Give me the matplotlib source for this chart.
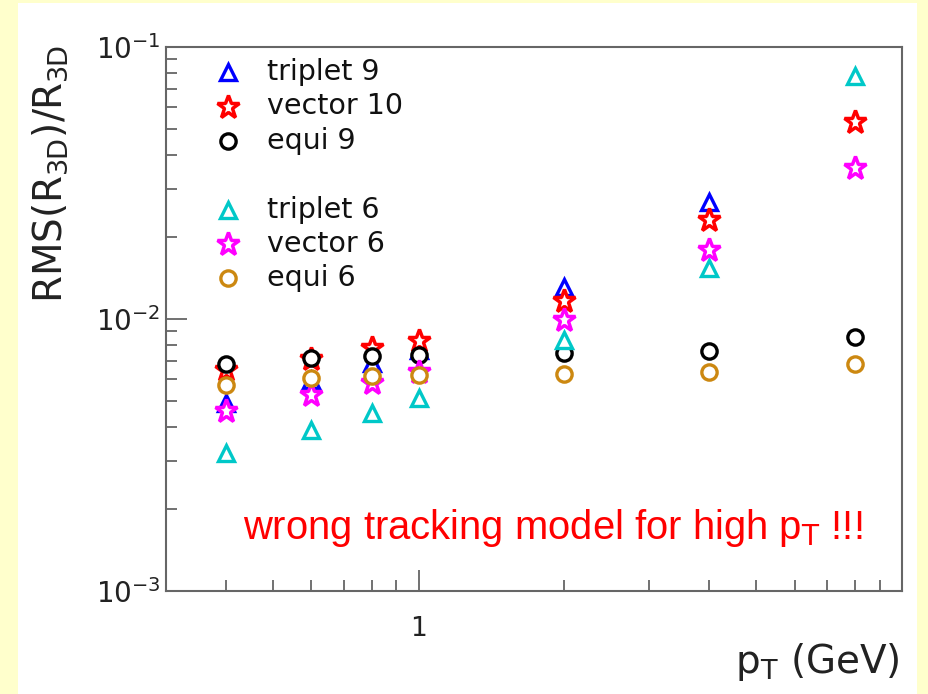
import matplotlib
matplotlib.use("Agg")
import matplotlib.pyplot as plt
from matplotlib.patches import Rectangle
from matplotlib.ticker import FixedLocator, FixedFormatter, LogLocator, NullFormatter

# ---------------- data ----------------
pt = [0.4, 0.6, 0.8, 1.0, 2.0, 4.0, 8.0]

triplet9 = [0.0049, 0.00594, 0.00691, 0.0077, 0.01306, 0.0268, None]
vector10 = [0.0065, 0.0071, 0.0078, 0.00826, 0.01159, 0.0230, 0.0530]
equi9 = [0.00684, 0.0072, 0.00731, 0.00738, 0.00752, 0.00765, 0.0086]
triplet6 = [0.00321, 0.00391, 0.00451, 0.00512, 0.00837, 0.01535, 0.0780]
vector6 = [0.00457, 0.00526, 0.0058, 0.0064, 0.00987, 0.0179, 0.0358]
equi6 = [0.00569, 0.00606, 0.00619, 0.00622, 0.00628, 0.0064, 0.00682]

series_names = ["triplet 9", "vector 10", "equi 9", "triplet 6", "vector 6", "equi 6"]

# ---------------- figure ----------------
W, H = 929, 694
fig = plt.figure(figsize=(W / 100, H / 100), dpi=100, facecolor="#FFFFCC")
fig.patches.append(Rectangle((18 / W, 0), (917 - 18) / W, (H - 3) / H,
                             transform=fig.transFigure, facecolor="white",
                             edgecolor="none", zorder=-5))

ax = fig.add_axes([166 / W, 1 - 591 / H, (901.7 - 166) / W, (591 - 46.7) / H])
ax.set_zorder(2)
ax.set_facecolor("white")
ax.set_xscale("log")
ax.set_yscale("log")
ax.set_xlim(0.3, 10)
ax.set_ylim(1e-3, 1e-1)

frame_col = "#666666"
for s in ax.spines.values():
    s.set_color(frame_col)
    s.set_linewidth(1.5)

styles = [
    dict(marker="^", color="#0000FF", ms=12, mew=2.4),
    dict(marker="*", color="#FF0000", ms=17, mew=2.5),
    dict(marker="o", color="#000000", ms=11, mew=2.4),
    dict(marker="^", color="#00C8C8", ms=12, mew=2.4),
    dict(marker="*", color="#FF00FF", ms=17, mew=2.5),
    dict(marker="o", color="#CC8811", ms=11, mew=2.4),
]
all_series = [triplet9, vector10, equi9, triplet6, vector6, equi6]

for vals, st in zip(all_series, styles):
    xs = [x for x, v in zip(pt, vals) if v is not None]
    ys = [v for v in vals if v is not None]
    ax.plot(xs, ys, linestyle="none", marker=st["marker"], ms=st["ms"],
            mfc="white", mec=st["color"], mew=st["mew"], zorder=3)

# ticks
ax.xaxis.set_major_locator(FixedLocator([1.0]))
ax.xaxis.set_major_formatter(FixedFormatter(["1"]))
ax.xaxis.set_minor_locator(LogLocator(base=10, subs=[2, 3, 4, 5, 6, 7, 8, 9]))
ax.xaxis.set_minor_formatter(NullFormatter())
ax.yaxis.set_major_locator(FixedLocator([1e-3, 1e-2, 1e-1]))
ax.yaxis.set_major_formatter(FixedFormatter([r"$10^{-3}$", r"$10^{-2}$", r"$10^{-1}$"]))
ax.yaxis.set_minor_locator(LogLocator(base=10, subs=[2, 3, 4, 5, 6, 7, 8, 9]))
ax.yaxis.set_minor_formatter(NullFormatter())

ax.tick_params(which="both", direction="in", top=False, right=False, color=frame_col, width=1.3)
ax.tick_params(which="major", length=15)
ax.tick_params(which="minor", length=8)
ax.tick_params(axis="x", which="major", labelsize=19, pad=18, labelcolor="#222222")
ax.tick_params(axis="y", which="major", labelsize=20, pad=4, labelcolor="#222222")

# legend (manual, ROOT-like)
leg_rows = [72, 106.5, 141, 210, 244, 278]
for name, st, yp in zip(series_names, styles, leg_rows):
    yf = (591 - yp) / (591 - 46.7)
    ax.plot([0.0843], [yf], transform=ax.transAxes, linestyle="none",
            marker=st["marker"], ms=st["ms"], mfc="white", mec=st["color"],
            mew=st["mew"], clip_on=False)
    ax.text(0.137, yf, name, transform=ax.transAxes, fontsize=20.5,
            va="center", ha="left", color="#111111")

# annotation
ax.text(862 / W, 1 - 528 / H, r"wrong tracking model for high p$_{\mathsf{T}}$ !!!",
        transform=fig.transFigure, ha="right", va="center", color="#FF0000",
        fontsize=28.8, family="Liberation Sans")

# axis titles
fig.text(900 / W, 1 - 662 / H, r"p$_{\mathrm{T}}$ (GeV)", ha="right", va="center",
         fontsize=28, color="#222222")
fig.text(50 / W, 1 - 45 / H, r"RMS(R$_{\mathrm{3D}}$)/R$_{\mathrm{3D}}$", rotation=90,
         ha="center", va="top", fontsize=28, color="#222222")

fig.savefig("out.png", dpi=100, facecolor=fig.get_facecolor())
